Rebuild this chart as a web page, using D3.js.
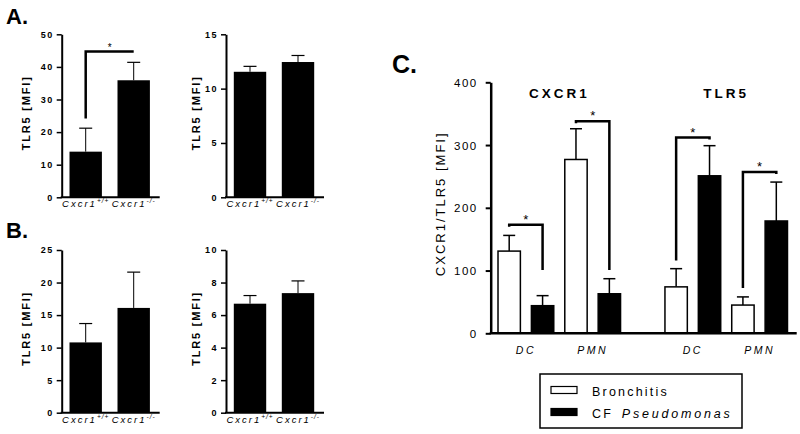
<!DOCTYPE html>
<html>
<head>
<meta charset="utf-8">
<script src="https://cdn.jsdelivr.net/npm/d3@7"></script>
<style>
  body { margin: 0; background: #fff; }
  svg { display: block; font-family: "Liberation Sans", Arial, sans-serif; }
</style>
</head>
<body>
<svg id="fig" width="800" height="434"></svg>
<script>
'use strict';

// panels A and B: Cxcr1 genotypes
const genotypes = ['+/+', '-/-'];
const aLeftMean = [14.0, 35.9];
const aLeftSem = [7.2, 5.5];
const aRightMean = [11.55, 12.45];
const aRightSem = [0.5, 0.6];
const bLeftMean = [10.8, 16.1];
const bLeftSem = [2.9, 5.5];
const bRightMean = [6.7, 7.35];
const bRightSem = [0.5, 0.75];
const aLeftSig = [24.2, 44.7]; // bracket: low end, top

// panel C
const receptors = ['CXCR1', 'TLR5'];
const cellTypes = ['DC', 'PMN'];
const conditions = ['Bronchitis', 'CF Pseudomonas'];
const bronchitisMean = [131, 277, 74, 45];
const bronchitisSem = [25, 49, 29, 13];
const cfMean = [44, 63, 251, 179];
const cfSem = [16, 24, 48, 62];
const sigTop = [173, 338, 312, 257];
const sigLow = [101, 101, 116, 72];

const svg = d3.select('#fig');

// panel letters
svg.append('text').attr('x', 6).attr('y', 24).text('A.')
    .style('font-size', '22px').style('font-weight', 'bold');
svg.append('text').attr('x', 6).attr('y', 238).text('B.')
    .style('font-size', '22px').style('font-weight', 'bold');
svg.append('text').attr('x', 392).attr('y', 73).text('C.')
    .style('font-size', '25px').style('font-weight', 'bold');

function smallPanel(left, top, h, yMax, yStep, means, sems, labelOffset, sig) {
    const w = 96;
    const g = svg.append('g').attr('transform', `translate(${left},${top})`);

    const x = d3.scaleBand()
      .domain(genotypes)
      .range([0, w])
      .paddingInner(0.325)
      .paddingOuter(0.1625);
    const y = d3.scaleLinear()
      .domain([0, yMax])
      .range([h, 0]);

    // error bars (upper only)
    genotypes.forEach((k, i) => {
        const cx = x(k) + x.bandwidth() / 2;
        g.append('line')
          .attr('x1', cx).attr('x2', cx)
          .attr('y1', y(means[i])).attr('y2', y(means[i] + sems[i]))
          .attr('stroke', '#000').attr('stroke-width', 1);
        g.append('line')
          .attr('x1', cx - 6.5).attr('x2', cx + 6.5)
          .attr('y1', y(means[i] + sems[i])).attr('y2', y(means[i] + sems[i]))
          .attr('stroke', '#000').attr('stroke-width', 1.2);
    });

    g.selectAll('rect.bar')
      .data(genotypes)
      .join('rect')
        .attr('class', 'bar')
        .attr('x', d => x(d))
        .attr('y', (d, i) => y(means[i]))
        .attr('width', x.bandwidth())
        .attr('height', (d, i) => h - y(means[i]))
        .attr('fill', '#000');

    // y axis
    const ya = g.append('g')
      .call(d3.axisLeft(y)
        .tickValues(d3.range(0, yMax + yStep / 2, yStep))
        .tickSize(5).tickSizeOuter(0).tickPadding(3));
    ya.select('.domain').attr('stroke-width', 2);
    ya.selectAll('.tick line').attr('stroke-width', 1.5);
    ya.selectAll('.tick text')
      .style('font-size', '9px').style('font-weight', 'bold')
      .style('letter-spacing', '1.5px').style('font-family', 'inherit');

    // baseline
    const xa = g.append('g')
      .attr('transform', `translate(0,${h})`)
      .call(d3.axisBottom(x).tickSize(0).tickSizeOuter(0).tickFormat(''));
    xa.select('.domain').attr('stroke-width', 2).attr('d', `M-1,0H${w + 2}`);

    // genotype labels
    genotypes.forEach(k => {
        const t = g.append('text')
          .attr('x', x(k) + x.bandwidth() / 2)
          .attr('y', h + 10)
          .attr('text-anchor', 'middle')
          .style('font-size', '9.5px').style('font-style', 'italic')
          .style('letter-spacing', '2px');
        t.append('tspan').text('Cxcr1');
        t.append('tspan').text(k).attr('dy', -4).style('font-size', '6.5px')
          .style('letter-spacing', '1px');
    });

    g.append('text')
      .attr('transform', `translate(${labelOffset},${h / 2 - 3}) rotate(-90)`)
      .attr('text-anchor', 'middle')
      .attr('dominant-baseline', 'central')
      .text('TLR5 [MFI]')
      .style('font-size', '11px').style('font-weight', 'bold')
      .style('letter-spacing', '1.8px');

    if (sig) {
        const x1 = x(genotypes[0]) + x.bandwidth() / 2;
        const x2 = x(genotypes[1]) + x.bandwidth() / 2;
        g.append('path')
          .attr('d', `M${x1},${y(sig[0])}V${y(sig[1])}H${x2}`)
          .attr('fill', 'none').attr('stroke', '#000').attr('stroke-width', 2.5);
        g.append('text')
          .attr('x', (x1 + x2) / 2).attr('y', y(sig[1]) - 1)
          .attr('text-anchor', 'middle').text('*')
          .style('font-size', '10px');
    }
}

smallPanel(61.7, 34.3, 163, 50, 10, aLeftMean, aLeftSem, -36, aLeftSig);
smallPanel(226, 34.3, 163, 15, 5, aRightMean, aRightSem, -30);
smallPanel(61.7, 250, 162.7, 25, 5, bLeftMean, bLeftSem, -36);
smallPanel(226, 250, 162.7, 10, 2, bRightMean, bRightSem, -30);

// ---- panel C ----
const rows = [];
receptors.forEach((r, ri) => {
    cellTypes.forEach((c, ci) => {
        const i = ri * cellTypes.length + ci;
        rows.push({
            receptor: r, cell: c, i: i,
            vals: [
                {key: `${r}|${c}|0`, cond: 0, mean: bronchitisMean[i], sem: bronchitisSem[i]},
                {key: `${r}|${c}|1`, cond: 1, mean: cfMean[i], sem: cfSem[i]}
            ]
        });
    });
});
const slots = [];
receptors.forEach((r, ri) => {
    if (ri > 0) slots.push('gap');
    cellTypes.forEach(c => conditions.forEach((k, ki) => slots.push(`${r}|${c}|${ki}`)));
});
const bars = rows.flatMap(r => r.vals);

const cLeft = 490.7, cBottom = 333.3, cTop = 82.3;
const xc = d3.scaleBand()
  .domain(slots)
  .range([492.5, 793])
  .paddingInner(0.33)
  .paddingOuter(0.165);
const yc = d3.scaleLinear()
  .domain([0, 400])
  .range([cBottom, cTop]);
const mid = k => xc(k) + xc.bandwidth() / 2;

const gc = svg.append('g');

// error bars
bars.forEach(d => {
    gc.append('line')
      .attr('x1', mid(d.key)).attr('x2', mid(d.key))
      .attr('y1', yc(d.mean)).attr('y2', yc(d.mean + d.sem))
      .attr('stroke', '#000').attr('stroke-width', 1.5);
    gc.append('line')
      .attr('x1', mid(d.key) - 6).attr('x2', mid(d.key) + 6)
      .attr('y1', yc(d.mean + d.sem)).attr('y2', yc(d.mean + d.sem))
      .attr('stroke', '#000').attr('stroke-width', 1.5);
});

gc.selectAll('rect.cbar')
  .data(bars)
  .join('rect')
    .attr('class', 'cbar')
    .attr('x', d => xc(d.key))
    .attr('y', d => yc(d.mean))
    .attr('width', xc.bandwidth())
    .attr('height', d => cBottom - yc(d.mean))
    .attr('fill', d => d.cond === 0 ? '#fff' : '#000')
    .attr('stroke', '#000')
    .attr('stroke-width', 1.5);

// y axis
const yca = gc.append('g')
  .attr('transform', `translate(${cLeft},0)`)
  .call(d3.axisLeft(yc).tickValues([0, 100, 200, 300, 400])
    .tickSize(5).tickSizeOuter(0).tickPadding(8));
yca.select('.domain').attr('stroke-width', 2.5);
yca.selectAll('.tick line').attr('stroke-width', 2);
yca.selectAll('.tick text')
  .style('font-size', '11.5px').style('letter-spacing', '1.5px')
  .style('font-family', 'inherit').attr('dy', '0.35em');

gc.append('line')
  .attr('x1', cLeft - 1).attr('x2', 796.7)
  .attr('y1', cBottom).attr('y2', cBottom)
  .attr('stroke', '#000').attr('stroke-width', 2.5);

gc.append('text')
  .attr('transform', `translate(440,${(cTop + cBottom) / 2 - 4}) rotate(-90)`)
  .attr('text-anchor', 'middle')
  .attr('dominant-baseline', 'central')
  .text('CXCR1/TLR5 [MFI]')
  .style('font-size', '13px').style('letter-spacing', '2px');

// cell type labels and receptor titles
rows.forEach(r => {
    gc.append('text')
      .attr('x', (mid(r.vals[0].key) + mid(r.vals[1].key)) / 2)
      .attr('y', 354)
      .attr('text-anchor', 'middle')
      .text(r.cell)
      .style('font-size', '10.5px').style('font-style', 'italic')
      .style('letter-spacing', '2.5px');
});
receptors.forEach(rc => {
    const keys = slots.filter(s => s.startsWith(rc + '|'));
    gc.append('text')
      .attr('x', (mid(keys[0]) + mid(keys[keys.length - 1])) / 2)
      .attr('y', 98)
      .attr('text-anchor', 'middle')
      .text(rc)
      .style('font-size', '13.5px').style('font-weight', 'bold')
      .style('letter-spacing', '3px');
});

// significance brackets
rows.forEach(r => {
    const [b, c] = r.vals;
    const longIsLeft = b.mean + b.sem < c.mean + c.sem;
    const xLong = longIsLeft ? mid(b.key) : mid(c.key);
    const xShort = longIsLeft ? mid(c.key) : mid(b.key);
    const yT = yc(sigTop[r.i]);
    gc.append('path')
      .attr('d', `M${xLong},${yc(sigLow[r.i])}V${yT}H${xShort}V${yT + 2}`)
      .attr('fill', 'none').attr('stroke', '#000').attr('stroke-width', 2.5);
    gc.append('text')
      .attr('x', (xLong + xShort) / 2).attr('y', yT - 1)
      .attr('text-anchor', 'middle').text('*')
      .style('font-size', '13px');
});

// legend
const lg = svg.append('g');
lg.append('rect')
  .attr('x', 540).attr('y', 374).attr('width', 202).attr('height', 54)
  .attr('fill', '#fff').attr('stroke', '#000').attr('stroke-width', 1.5);
conditions.forEach((k, i) => {
    lg.append('rect')
      .attr('x', 551).attr('y', 386.5 + i * 22).attr('width', 26).attr('height', 7)
      .attr('fill', i === 0 ? '#fff' : '#000')
      .attr('stroke', '#000').attr('stroke-width', 1.2);
    const t = lg.append('text')
      .attr('x', 592).attr('y', 395.5 + i * 22.5)
      .style('font-size', '12.5px').style('letter-spacing', '2.2px');
    const parts = k.split(' ');
    if (parts.length > 1) {
        t.append('tspan').text(parts[0] + ' ');
        t.append('tspan').text(parts[1]).attr('dx', 3)
          .style('font-style', 'italic').style('letter-spacing', '2.8px');
    } else {
        t.text(k);
    }
});
</script>
</body>
</html>
